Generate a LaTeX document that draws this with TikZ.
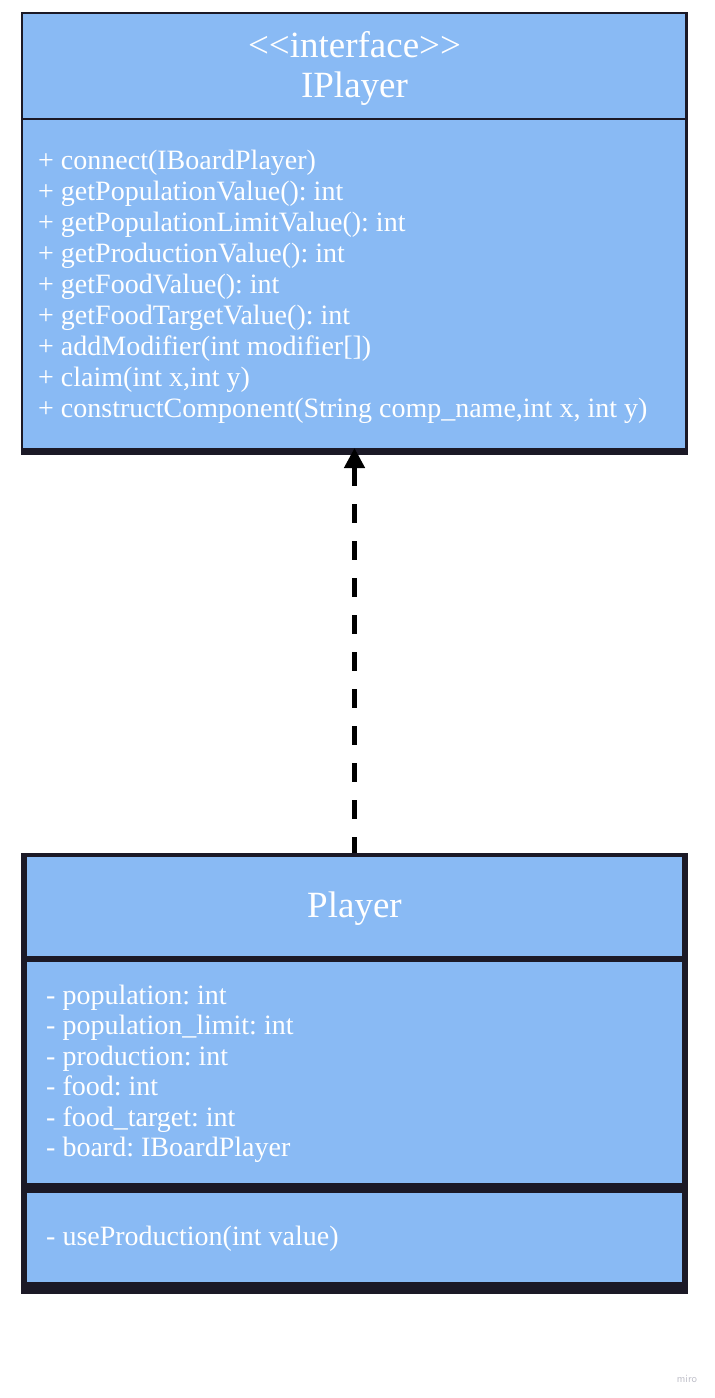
\documentclass[tikz,border=0pt]{standalone}
\usepackage{fontspec}
\setmainfont{Liberation Serif}[Ligatures=NoCommon]
\usetikzlibrary{arrows.meta}
\definecolor{boxfill}{RGB}{137,186,244}
\definecolor{boxline}{RGB}{27,25,38}
\definecolor{marktext}{RGB}{190,190,200}
\frenchspacing
\begin{document}
\begin{tikzpicture}[x=1pt,y=-1pt,
  member/.style={inner sep=0pt, anchor=base west, text=white, font=\fontsize{28}{31}\selectfont},
  title/.style={inner sep=0pt, anchor=base, text=white, font=\fontsize{37}{40}\selectfont},
  dep/.style={line width=4.5pt, draw=black, dash pattern=on 19pt off 18pt, dash phase=3pt,
    -{Triangle[length=20pt,width=20pt]}}]
\useasboundingbox (0,0) rectangle (715,1398);
\fill[white] (0,0) rectangle (715,1398);
% IPlayer box
\fill[boxline] (21,12) rectangle (688,455);
\fill[boxfill] (23,14) rectangle (685,448);
\fill[boxline] (23,118) rectangle (685,120);
\node[inner sep=0pt, minimum width=667pt, minimum height=443pt] (ipbox) at (354.5,233.5) {};
\node[title] (ipstereo) at (354.5,57) {{<}{<}interface{>}{>}};
\node[title] (ipname) at (354.5,97) {IPlayer};
\node[member] (m1) at (38,169) {+ connect(IBoardPlayer)};
\node[member] (m2) at (38,200) {+ getPopulationValue(): int};
\node[member] (m3) at (38,231) {+ getPopulationLimitValue(): int};
\node[member] (m4) at (38,262) {+ getProductionValue(): int};
\node[member] (m5) at (38,293) {+ getFoodValue(): int};
\node[member] (m6) at (38,324) {+ getFoodTargetValue(): int};
\node[member] (m7) at (38,355) {+ addModifier(int modifier[])};
\node[member] (m8) at (38,386) {+ claim(int x,int y)};
\node[member] (m9) at (38,417) {+ constructComponent(String comp\_name,int x, int y)};
% Player box
\fill[boxline] (21,853) rectangle (688,1294);
\fill[boxfill] (27,857) rectangle (682,1282);
\fill[boxline] (27,956) rectangle (682,962);
\fill[boxline] (27,1183) rectangle (682,1193);
\node[inner sep=0pt, minimum width=667pt, minimum height=441pt] (plbox) at (354.5,1073.5) {};
\node[title] (plname) at (354.5,917) {Player};
\node[member] (a1) at (46,1004) {- population: int};
\node[member] (a2) at (46,1034.5) {- population\_limit: int};
\node[member] (a3) at (46,1065) {- production: int};
\node[member] (a4) at (46,1095.5) {- food: int};
\node[member] (a5) at (46,1126) {- food\_target: int};
\node[member] (a6) at (46,1156.5) {- board: IBoardPlayer};
\node[member] (o1) at (46,1245) {- useProduction(int value)};
% realization
\coordinate (tip) at (354.5,448);
\draw[dep] (plbox.north) -- (tip);
% watermark
\node[inner sep=0pt, anchor=base, text=marktext, font=\sffamily\fontsize{11}{12}\selectfont] (wm) at (687,1382) {miro};
\end{tikzpicture}
\end{document}
